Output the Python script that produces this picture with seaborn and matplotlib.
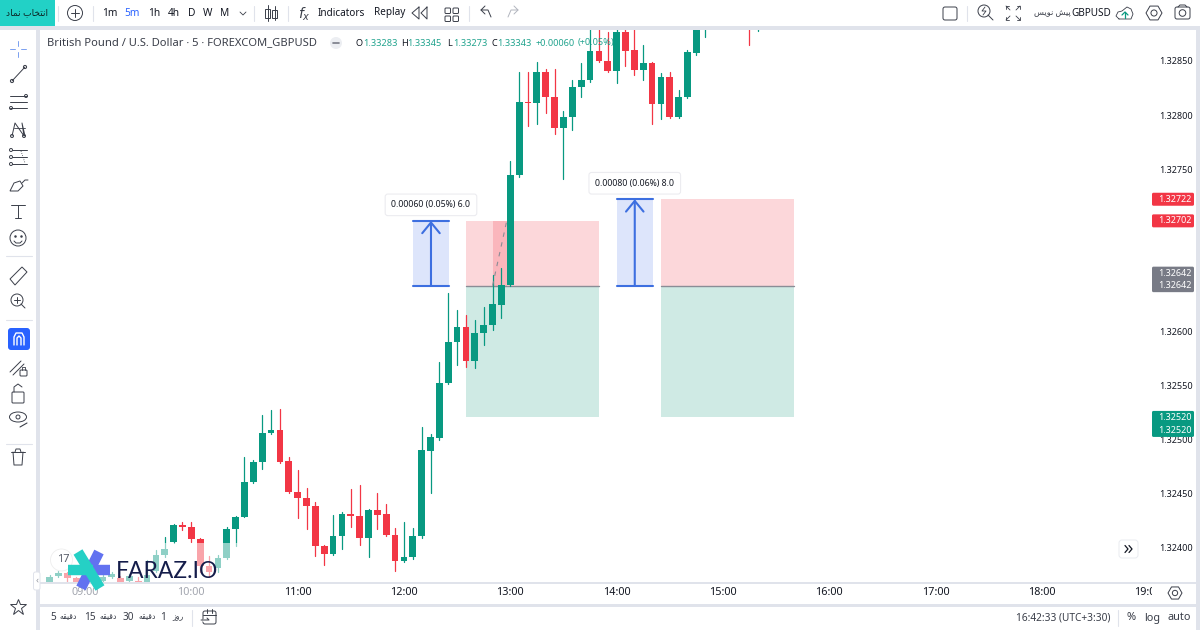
import numpy as np
import pandas as pd
import matplotlib
matplotlib.use("Agg")
import matplotlib.pyplot as plt
import seaborn as sns
from matplotlib.patches import Circle, Ellipse, FancyBboxPatch, Polygon, Rectangle
from matplotlib.ticker import FuncFormatter

# ==========================
# Chart data (GBPUSD 5 min), in 1e-5 price units
# ==========================
bar_index = list(range(-4, 71)) + [75, 76]

opens = [132368, 132373, 132376, 132371, 132368, 132372, 132369, 132372, 132371, 132369, 132369, 132368,
         132378, 132393, 132405, 132420, 132419, 132407, 132382, 132381, 132390, 132417, 132428, 132460,
         132479, 132506, 132508, 132480, 132451, 132445, 132438, 132401, 132394, 132410, 132431, 132429,
         132408, 132434, 132431, 132411, 132387, 132391, 132410, 132489, 132501, 132552, 132590, 132604,
         132572, 132598, 132606, 132624, 132643, 132744, 132812, 132811, 132840, 132817, 132788, 132798,
         132826, 132832, 132859, 132850, 132841, 132877, 132860, 132842, 132848, 132810, 132835, 132798,
         132817, 132857, 132890, 132895, 132885]
highs = [132374, 132378, 132377, 132372, 132374, 132374, 132374, 132377, 132373, 132375, 132372, 132388,
         132397, 132409, 132421, 132423, 132423, 132408, 132392, 132393, 132419, 132429, 132483, 132481,
         132522, 132527, 132528, 132483, 132471, 132455, 132442, 132402, 132430, 132432, 132454, 132457,
         132435, 132450, 132440, 132418, 132423, 132418, 132511, 132505, 132571, 132635, 132619, 132615,
         132610, 132622, 132652, 132658, 132757, 132840, 132840, 132849, 132843, 132843, 132804, 132832,
         132848, 132885, 132885, 132877, 132885, 132885, 132885, 132865, 132849, 132839, 132840, 132823,
         132860, 132890, 132905, 132900, 132895]
lows = [132368, 132372, 132368, 132367, 132366, 132367, 132368, 132371, 132367, 132368, 132367, 132367,
        132377, 132391, 132404, 132416, 132405, 132377, 132372, 132377, 132389, 132401, 132428, 132459,
        132472, 132505, 132478, 132450, 132427, 132417, 132392, 132383, 132393, 132398, 132419, 132402,
        132391, 132417, 132410, 132378, 132386, 132389, 132408, 132450, 132499, 132551, 132569, 132567,
        132566, 132587, 132601, 132612, 132642, 132743, 132790, 132792, 132802, 132782, 132741, 132786,
        132817, 132831, 132849, 132840, 132830, 132845, 132837, 132832, 132792, 132796, 132797, 132797,
        132816, 132856, 132872, 132865, 132878]
closes = [132372, 132376, 132371, 132368, 132372, 132369, 132372, 132375, 132368, 132373, 132368, 132374,
          132393, 132398, 132420, 132419, 132407, 132382, 132377, 132390, 132417, 132428, 132460, 132479,
          132506, 132508, 132479, 132451, 132445, 132438, 132401, 132394, 132410, 132431, 132429, 132408,
          132434, 132430, 132411, 132387, 132391, 132410, 132490, 132502, 132552, 132590, 132604, 132572,
          132598, 132606, 132625, 132643, 132744, 132812, 132811, 132840, 132817, 132788, 132798, 132826,
          132832, 132859, 132850, 132841, 132877, 132859, 132842, 132848, 132810, 132835, 132798, 132817,
          132858, 132885, 132900, 132890, 132890]

hour_labels = ["09:00", "10:00", "11:00", "12:00", "13:00", "14:00", "15:00", "16:00", "17:00", "18:00", "19:00"]
price_ticks = [1.3240, 1.3245, 1.3250, 1.3255, 1.3260, 1.3265, 1.3270, 1.3275, 1.3280, 1.3285]
# these two sit right behind the price tags
hidden_ticks = ["1.32650", "1.32700"]

# long position boxes: start bar, end bar, target, entry, stop
box_start = [43, 65]
box_end = [58, 80]
box_target = [1.32702, 1.32722]
box_entry = [1.32642, 1.32642]
box_stop = [1.32520, 1.32520]

# price range measures
measure_start = [37, 60]
measure_end = [41.1, 64.1]
measure_from = [1.32642, 1.32642]
measure_to = [1.32702, 1.32722]
measure_text = ["0.00060 (0.05%) 6.0", "0.00080 (0.06%) 8.0"]

GREEN = "#089981"
RED = "#f23645"
BLUE = "#2962ff"
BAND = "#e0e3eb"
INK = "#131722"
ICON = "#3a3e49"

sns.set_theme(style="white")
plt.rcParams["font.family"] = ["Noto Sans", "DejaVu Sans"]
plt.rcParams["axes.unicode_minus"] = False

df = pd.DataFrame({"bar": bar_index, "o": opens, "h": highs, "l": lows, "c": closes})
df[["o", "h", "l", "c"]] = df[["o", "h", "l", "c"]] / 1e5
df["dir"] = np.where(df["c"] >= df["o"], "up", "down")

fig = plt.figure(figsize=(12, 6.3), dpi=100, facecolor="white")
ax = fig.add_axes([40 / 1200, 47 / 630, 1112 / 1200, 553 / 630])

# ==========================
# Position boxes and measures
# ==========================
for s, e, t, n, st in zip(box_start, box_end, box_target, box_entry, box_stop):
    ax.fill_between([s, e], n, t, color="#fcd7da", lw=0)
    ax.fill_between([s, e], st, n, color="#cfeae4", lw=0)
    ax.plot([s, e], [n, n], color="#8a8d96", lw=1)

ax.fill_between([46, 47.6], 1.32642, 1.32702, color=RED, alpha=0.2, lw=0)
ax.plot([46, 47.6], [1.32642, 1.32702], color="#8a8d96", lw=0.8, ls=(0, (4, 5)), zorder=5)

for s, e, a, b, label in zip(measure_start, measure_end, measure_from, measure_to, measure_text):
    mid = (s + e) / 2
    ax.fill_between([s, e], a, b, color="#dde5fb", lw=0)
    ax.plot([s, e], [a, a], color="#3d6fe0", lw=1.5)
    ax.plot([s, e], [b, b], color="#3d6fe0", lw=1.5)
    ax.annotate("", xy=(mid, b), xytext=(mid, a),
                arrowprops=dict(arrowstyle="->,head_length=0.55,head_width=0.45", color="#3d6fe0", lw=1.5,
                                shrinkA=0, shrinkB=0, mutation_scale=14))
    ax.annotate(label, xy=(mid, b), xytext=(0, 16), textcoords="offset pixels", ha="center", va="center",
                fontsize=6.3, color=INK, zorder=8,
                bbox=dict(boxstyle="round,pad=0.72,rounding_size=0.3", fc="white", ec="#ececf0", lw=0.8))

# ==========================
# Candles
# ==========================
wicks = pd.concat([df[["bar", "dir"]].assign(price=df["l"]), df[["bar", "dir"]].assign(price=df["h"])])
sns.lineplot(data=wicks, x="bar", y="price", units="bar", hue="dir", estimator=None, sort=False,
             palette={"up": GREEN, "down": RED}, lw=0.9, legend=False, ax=ax, zorder=3)
ax.bar(df["bar"], (df["c"] - df["o"]).abs(), bottom=df[["o", "c"]].min(axis=1), width=0.76, zorder=4,
       color=df["dir"].map({"up": GREEN, "down": RED}), lw=0)

ax.set_xlim(-5.08, 120.43)
ax.set_ylim(1.323667, 1.328787)
ax.set_xticks(range(0, 121, 12), hour_labels)
ax.set_yticks(price_ticks)
ax.yaxis.set_major_formatter(FuncFormatter(lambda v, _: "" if f"{v:.5f}" in hidden_ticks else f"{v:.5f}"))
ax.yaxis.tick_right()
ax.set_xlabel("")
ax.set_ylabel("")
ax.tick_params(axis="x", length=0, pad=3, labelsize=7.8, labelcolor=INK)
ax.tick_params(axis="y", length=0, pad=5, labelsize=6.5, labelcolor=INK)
for i, tick in enumerate(ax.get_xticklabels()):
    if i < 2:
        tick.set_color("#a3a6af")
sns.despine(ax=ax, left=True, right=True, top=True, bottom=True)

# ==========================
# Screen furniture, in pixel coordinates
# ==========================
ui = fig.add_axes([0, 0, 1, 1], zorder=10)
ui.set_xlim(0, 1200)
ui.set_ylim(630, 0)
ui.axis("off")
ui.patch.set_alpha(0)
ui.autoscale(False)


def ln(xs, ys, c=ICON, lw=0.7, **kw):
    ui.plot(xs, ys, color=c, lw=lw, solid_capstyle=kw.pop("cap", "round"), solid_joinstyle="round", **kw)


def txt(x, y, s, size=8, c=INK, ha="center", **kw):
    ui.text(x, y, s, fontsize=size, color=c, ha=ha, va="center", **kw)


def round_box(x0, y0, x1, y1, fc="none", ec=ICON, lw=0.7, r=2):
    ui.add_patch(FancyBboxPatch((x0, y0), x1 - x0, y1 - y0, boxstyle=f"round,pad=0,rounding_size={r}",
                                fc=fc, ec=ec, lw=lw))


def ring(x, y, r, ec=ICON, fc="none", lw=0.7):
    ui.add_patch(Circle((x, y), r, fc=fc, ec=ec, lw=lw))


def hexagon(x, y, r):
    a = np.radians([0, 60, 120, 180, 240, 300])
    ui.add_patch(Polygon(np.c_[x + r * np.cos(a), y + r * np.sin(a)], closed=True, fc="none", ec=ICON, lw=0.7))
    ring(x, y, r * 0.38)


def arabic(forms):
    # matplotlib does no shaping, so use presentation forms in visual order
    return forms[::-1]


# watermark veil over the early candles
ui.add_patch(Rectangle((40, 543), 202, 40, fc="white", ec="none", alpha=0.55))

# bands around the panes
ui.add_patch(Rectangle((0, 26), 1200, 4, fc=BAND, ec="none"))
ui.add_patch(Rectangle((36, 26), 4, 604, fc=BAND, ec="none"))
ui.add_patch(Rectangle((1196, 26), 4, 604, fc=BAND, ec="none"))
ui.add_patch(Rectangle((40, 582), 1156, 1.5, fc=BAND, ec="none"))
ui.add_patch(Rectangle((40, 604), 1156, 3, fc=BAND, ec="none"))
ui.add_patch(Rectangle((1152, 583.5), 44, 20.5, fc="white", ec="none"))

# top toolbar
ui.add_patch(Rectangle((0, 0), 55, 26, fc="#22d1c6", ec="none"))
nemad = arabic("\ufe8d\ufee7\ufe98\ufea8\ufe8e\ufe8f \ufee7\ufee4\ufe8e\ufea9")
txt(27, 13, nemad, size=6.6, c="#0d2b2a")
for x in [58, 93, 254, 288, 469, 967]:
    ln([x, x], [6, 21], c=BAND, lw=0.8)
ring(75, 13, 7.5)
ln([71, 79], [13, 13])
ln([75, 75], [9, 17])
for x, s in zip([110, 132, 154, 174, 192, 208, 225], ["1m", "5m", "1h", "4h", "D", "W", "M"]):
    txt(x, 13, s, size=7.3, c="#2962ff" if s == "5m" else INK)
ln([240, 243, 246], [12, 15, 12], lw=0.6)
ln([267.5, 267.5], [5, 21])
ui.add_patch(Rectangle((265, 9), 5, 9, fc="white", ec=ICON, lw=0.7))
ln([274.5, 274.5], [6, 20])
ui.add_patch(Rectangle((272, 10), 5, 8, fc="white", ec=ICON, lw=0.7))
txt(304, 14, r"$f_x$", size=10, c=ICON)
txt(341, 13, "Indicators", size=7.2)
txt(390, 13, "Replay", size=7.2)
ln([419, 412, 419, 419], [7, 13, 19, 7])
ln([427, 421, 427, 427], [7, 13, 19, 7])
for x in [445, 453]:
    for y in [8, 16]:
        round_box(x, y, x + 5.5, y + 5.5, r=1)
ln([491, 488, 481, 485], [17, 10, 10, 6])
ln([481, 485], [10, 14])
ln([508, 511, 518, 514], [17, 10, 10, 6], c="#b2b5be")
ln([518, 514], [10, 14], c="#b2b5be")

round_box(943, 7, 957, 20)
ring(984, 11, 6)
ln([988, 993], [15, 20])
ln([985, 982, 986, 983], [7, 11, 11, 15], lw=0.6)
for sx, sy in [(-1, -1), (1, -1), (-1, 1), (1, 1)]:
    ln([1013 + sx * 3, 1013 + sx * 7], [13 + sy * 3, 13 + sy * 7], lw=0.6)
    ln([1013 + sx * 4, 1013 + sx * 7, 1013 + sx * 7], [13 + sy * 7, 13 + sy * 7, 13 + sy * 4], lw=0.6)
draft = arabic("\ufb58\ufbff\ufeb6 \ufee7\ufeee\ufbfe\ufeb2")
txt(1052, 13, draft, size=5.9, c=ICON)
txt(1091, 13, "GBPUSD", size=7.2)
ln([1119, 1116, 1118, 1122, 1127, 1131, 1133, 1131, 1119],
   [19, 16, 12, 11, 7, 9, 14, 19, 19], lw=0.6)
ln([1125, 1125], [18, 12], c=GREEN, lw=0.9)
ln([1122, 1125, 1128], [15, 12, 15], c=GREEN, lw=0.9)
hexagon(1154, 13, 8)
round_box(1175, 7, 1190, 19)
ln([1178, 1180, 1185, 1187], [7, 5, 5, 7])
ring(1182.5, 13, 3.3)

# legend line
txt(47, 43, "British Pound / U.S. Dollar · 5 · FOREXCOM_GBPUSD", size=8.05, ha="left", c=ICON)
ui.add_patch(Circle((336, 43), 6, fc="#eceef2", ec="none"))
ln([333, 339], [43, 43], c="#787b86", lw=1.2)
for x, s in zip([356, 401, 447, 491], ["O", "H", "L", "C"]):
    txt(x, 43, s, size=6.6, ha="left")
for x, s in zip([363, 407, 453, 497, 536, 578],
                ["1.33283", "1.33345", "1.33273", "1.33343", "+0.00060", "(+0.05%)"]):
    txt(x, 43, s, size=6.6, c=GREEN, ha="left", alpha=0.9)

# left toolbar
ln([18, 18], [41, 46], c="#7aa0f0")
ln([18, 18], [52, 57], c="#7aa0f0")
ln([10, 15], [49, 49], c="#7aa0f0")
ln([21, 26], [49, 49], c="#7aa0f0")
ln([12, 25], [81, 67])
ring(12, 81, 1.6, fc="white")
ring(25, 67, 1.6, fc="white")
for y in [96, 102, 108]:
    ln([10, 27], [y, y])
ring(26, 96, 1.5, fc="white")
ring(11, 108, 1.5, fc="white")
ln([12, 15, 24, 22, 25], [136, 123, 136, 123, 136])
ln([14, 25], [128, 128], lw=0.6)
ring(12, 136, 1.5, fc="white")
ring(24, 136, 1.5, fc="white")
for y in [150, 157, 164]:
    ln([12, 27], [y, y], lw=0.7)
    ring(11, y, 1.5, fc="white")
ln([21, 25], [151, 163], lw=0.6, ls=":")
ui.add_patch(Polygon([(10, 191), (14, 183), (20, 181), (23, 186), (18, 191)], closed=True, fc="none", ec=ICON, lw=0.7))
ln([22, 25, 28], [183, 180, 180])
ln([11, 25], [205, 205])
ln([18, 18], [205, 218])
ln([15, 21], [218, 218])
ring(18, 238, 8)
ui.plot([15, 21], [236, 236], ".", color=ICON, ms=1.6)
ln([14, 16, 20, 22], [241, 243, 243, 241])
for y in [256, 320, 444]:
    ln([6, 32], [y, y], c=BAND, lw=0.8)
ui.add_patch(Polygon([(10, 279), (22, 267), (27, 272), (15, 285)], closed=True, fc="none", ec=ICON, lw=0.7))
ring(17, 300, 6)
ln([14, 20], [300, 300])
ln([17, 17], [297, 303])
ln([21, 25], [304, 308])
round_box(8, 328, 30, 350, fc=BLUE, ec="none", r=3)
ln([14, 14, 16, 22, 24, 24], [345, 337, 333, 333, 337, 345], c="white", lw=1)
ln([17, 17, 19, 21, 21], [345, 338, 336, 338, 345], c="white", lw=1)
ln([10, 21], [372, 361])
ln([13, 24], [375, 364])
round_box(20, 370, 27, 376, r=1)
ln([22, 22, 25, 25], [370, 367, 367, 370], lw=0.6)
round_box(12, 392, 24, 403, r=1)
ln([14, 14, 18, 22], [392, 387, 384, 387])
ui.add_patch(Ellipse((18, 417), 17, 10, fc="none", ec=ICON, lw=0.7))
ring(18, 417, 2)
ln([20, 27], [427, 423], lw=0.8)
ln([11, 25], [452, 452])
ln([15, 16, 20, 21], [452, 449, 449, 452])
ln([13, 14, 22, 23], [452, 465, 465, 452])
ui.plot(18, 607, marker="*", ms=12, mfc="none", mec=ICON, mew=0.7)
round_box(33.5, 572, 40, 590, fc="white", ec=BAND, r=2)
txt(37, 580.5, "‹", size=7, c="#9598a1")

# bottom bar
minute = arabic("\ufea9\ufed7\ufbff\ufed8\ufeea")
day = arabic("\ufead\ufeed\ufeaf")
for x, s in zip([53, 68, 90, 108, 128, 147, 163, 178],
                ["5", minute, "15", minute, "30", minute, "1", day]):
    txt(x, 618, s, size=7.2 if s.isdigit() else 5.6, c=ICON)
ln([192, 192], [610, 626], c=BAND, lw=0.8)
round_box(203, 611, 216, 624)
ln([203, 216], [615, 615])
ln([207, 207], [609, 613])
ln([212, 212], [609, 613])
ln([203, 211], [620, 620], c="white", lw=2)
ln([201, 209, 207], [620, 620, 618])
txt(1063.5, 618, "16:42:33 (UTC+3:30)", size=7.3, c=ICON)
ln([1118, 1118], [610, 626], c=BAND, lw=0.8)
txt(1131, 618, "%", size=8, c=ICON)
txt(1152, 618, "log", size=7.8, c=ICON)
txt(1179, 618, "auto", size=7.8, c=ICON)
hexagon(1175, 593, 7)
round_box(1119, 540, 1138, 558, fc="white", ec="#e9ebf0", r=3)
ln([1125, 1128, 1125], [545.5, 549, 552.5], c=INK, lw=0.9)
ln([1129, 1132, 1129], [545.5, 549, 552.5], c=INK, lw=0.9)

# price tags on the scale
fig.canvas.draw()


def price_px(p):
    return 630 - ax.transData.transform((0, p))[1]


for p, fc in [(1.32722, RED), (1.32702, RED)]:
    y = price_px(p)
    round_box(1152, y - 6.5, 1194, y + 6.5, fc=fc, ec="none", r=1.5)
    txt(1174.5, y, f"{p:.5f}", size=6.5, c="white")
for p, fc, shift in [(1.32642, "#787b86", -12.5), (1.32520, GREEN, 13)]:
    y = price_px(p)
    round_box(1152, min(y, y + shift) - 6.5, 1194, max(y, y + shift) + 6.5, fc=fc, ec="none", r=1.5)
    txt(1174.5, y, f"{p:.5f}", size=6.5, c="white")
    txt(1174.5, y + shift, f"{p:.5f}", size=6.5, c="white")

# logo
ln([99, 81], [552, 588], c="#6272f0", lw=7.5, cap="butt")
ln([93, 110], [570, 570], c="#6272f0", lw=7.5, cap="butt")
ln([68, 93], [570, 570], c="#25d0c5", lw=7.5, cap="butt")
ln([78, 100], [552, 588], c="#25d0c5", lw=7.5, cap="butt")
ring(61.5, 560, 11, fc=(1, 1, 1, 0.7), ec="#eeeeee", lw=0.6)
txt(63, 560, "17", size=8, c="#555a66", fontweight="bold")
txt(116, 571.5, "FARAZ.IO", size=16.5, c="#141c4a", ha="left", family="Lato")

plt.savefig("out.png", dpi=100)
